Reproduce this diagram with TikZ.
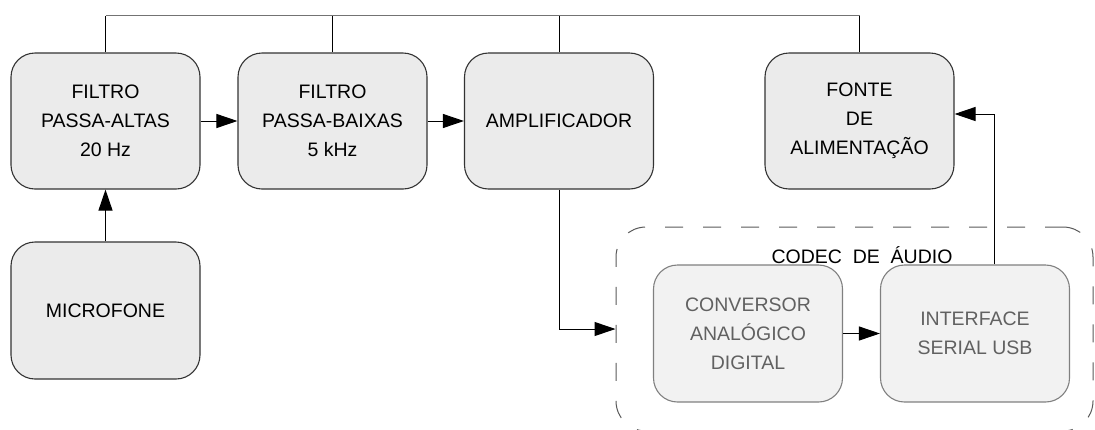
\documentclass[tikz,border=0pt]{standalone}
\usepackage{fontspec}
\setmainfont{Liberation Sans}
\usepackage{tikz}
\usetikzlibrary{arrows.meta}

\tikzset{
        bloco/.style={draw=black!80, line width=1.1pt, fill=black!8, rounded corners=24pt,
                minimum width=189pt, minimum height=136pt, inner sep=0pt, align=center,
                font=\fontsize{19.5}{29}\selectfont},
        blococodec/.style={bloco, draw=black!50, fill=black!5, text=black!62},
        seta/.style={-{Triangle[length=21pt,width=14pt]}, line width=1pt},
        ligacao/.style={line width=1pt},
        barra/.style={draw=black!55, line width=1.6pt}
}

\begin{document}
\begin{tikzpicture}[x=1pt,y=-1pt]
        \useasboundingbox (0,0) rectangle (1095,429);

        \node[bloco] (fpa) at (105.5,121) {FILTRO\\PASSA-ALTAS\\20 Hz};
        \node[bloco] (fpb) at (332.5,121) {FILTRO\\PASSA-BAIXAS\\5 kHz};
        \node[bloco] (amp) at (559,121) {AMPLIFICADOR};
        \node[bloco] (fonte) at (859.5,121) {FONTE\\DE\\ALIMENTAÇÃO};

        \node[bloco, minimum height=137pt] (mic) at (105.5,310.5) {MICROFONE};

        \node[draw=black!65, line width=1pt, dash pattern=on 18pt off 20pt, rounded corners=30pt,
                minimum width=477pt, minimum height=204pt, inner sep=0pt] (codec) at (854.5,329) {};
        \node[font=\fontsize{19.5}{29}\selectfont] (rotulo) at (862,255) {CODEC\ \ DE\ \ ÁUDIO};
        \node[blococodec, minimum height=137pt] (conv) at (748,333.5) {CONVERSOR\\ANALÓGICO\\DIGITAL};
        \node[blococodec, minimum height=137pt] (usb) at (975,333.5) {INTERFACE\\SERIAL USB};

        \coordinate (topo) at (0,15.5);
        \draw[barra] (fpa.north |- topo) -- (fonte.north |- topo);
        \foreach \b in {fpa,fpb,amp,fonte}
                \draw[ligacao] (\b.north) -- (\b.north |- topo);

        \draw[seta] (fpa.east) -- (fpb.west);
        \draw[seta] (fpb.east) -- (amp.west);
        \draw[seta] (mic.north) -- (fpa.south);
        \draw[seta] (amp.south) |- (codec.west);
        \draw[seta] (conv.east) -- (usb.west);
        \draw[seta] ([xshift=19pt]usb.north) |- ([yshift=7pt]fonte.east);

\end{tikzpicture}
\end{document}
